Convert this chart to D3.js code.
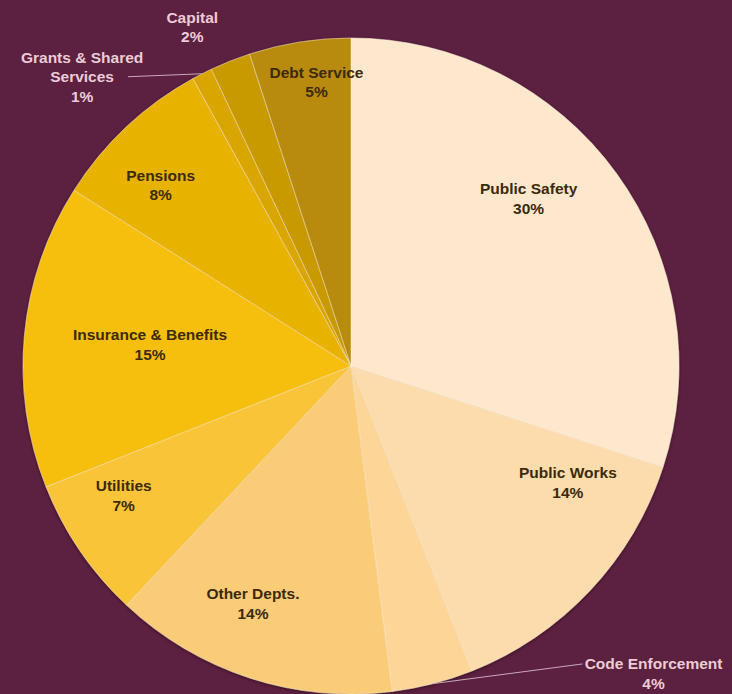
<!DOCTYPE html>
<html>
<head>
<meta charset="utf-8">
<script src="https://cdn.jsdelivr.net/npm/d3@7"></script>
<style>
  html, body { margin: 0; padding: 0; background: #5c2040; }
  svg { display: block; }
</style>
</head>
<body>
<div id="plot"></div>
<script>
// data, clockwise from 12 o'clock
var categories = ["Public Safety", "Public Works", "Code Enforcement", "Other Depts.",
    "Utilities", "Insurance & Benefits", "Pensions", "Grants & Shared Services",
    "Capital", "Debt Service"];
var shares = [30, 14, 4, 14, 7, 15, 8, 1, 2, 5];
var sliceColors = ["#fde8cd", "#fcdcad", "#fcd597", "#fbcc78", "#f9c437",
    "#f6be0a", "#e8b200", "#d9a600", "#c99a02", "#b88a0c"];

var svgWidth = 732;
var svgHeight = 694;

var svg = d3.select("#plot")
    .append("svg")
    .attr("width", svgWidth)
    .attr("height", svgHeight);

svg.append("rect")
    .attr("width", svgWidth)
    .attr("height", svgHeight)
    .attr("fill", "#5c2040");

var cx = 351, cy = 366, radius = 328;
var lineGap = 19.5;
var fontFamily = "Liberation Sans, Arial, sans-serif";

var chartGroup = svg.append("g")
    .attr("transform", `translate(${cx}, ${cy})`);

var pie = d3.pie().sort(null).value(d => d.value);
var arc = d3.arc().innerRadius(0).outerRadius(radius);
var labelArc = d3.arc().innerRadius(radius * 0.79).outerRadius(radius * 0.79);

var data = categories.map((c, i) => ({ name: c, value: shares[i], color: sliceColors[i] }));
var arcs = pie(data);

// soft edge shadow
var defs = svg.append("defs");
var shadow = defs.append("filter").attr("id", "shadow")
    .attr("x", "-10%").attr("y", "-10%").attr("width", "120%").attr("height", "120%");
shadow.append("feDropShadow")
    .attr("dx", 0).attr("dy", 1).attr("stdDeviation", 1.5)
    .attr("flood-color", "#2a0818").attr("flood-opacity", 0.7);

var slices = chartGroup.append("g").attr("filter", "url(#shadow)");
slices.selectAll("path")
    .data(arcs)
    .enter()
    .append("path")
    .attr("d", arc)
    .attr("fill", d => d.data.color)
    .attr("stroke", "#fff3e0")
    .attr("stroke-opacity", 0.45)
    .attr("stroke-width", 1);

function pct(d) { return Math.round(d.data.value) + "%"; }

// draw a centred block of text lines around (x, y)
function textBlock(x, y, lines, color) {
    var t = chartGroup.append("text")
        .attr("text-anchor", "middle")
        .attr("font-family", fontFamily)
        .attr("font-size", "15.5px")
        .attr("font-weight", "bold")
        .attr("fill", color);
    var top = y - (lines.length - 1) * lineGap / 2 + 5.5;
    lines.forEach(function (s, i) {
        t.append("tspan").attr("x", x).attr("y", top + i * lineGap).text(s);
    });
}

// labels inside the slices: centroid plus a small nudge (as in the original layout)
var insideNudge = {
    "Public Safety": [-32, -15],
    "Public Works": [28, -61],
    "Other Depts.": [-18, -9],
    "Utilities": [-13, -16],
    "Insurance & Benefits": [57, 3],
    "Pensions": [-13, 8],
    "Debt Service": [6, -28]
};
arcs.filter(d => insideNudge[d.data.name]).forEach(function (d) {
    var p = labelArc.centroid(d);
    var n = insideNudge[d.data.name];
    textBlock(p[0] + n[0], p[1] + n[1], [d.data.name, pct(d)], "#3b2a0e");
});

// labels outside, with leader lines
function edgePoint(d) {
    var a = (d.startAngle + d.endAngle) / 2;
    return [radius * Math.sin(a), -radius * Math.cos(a)];
}
var outsideLayout = {
    "Grants & Shared Services": { dx: -120, dy: 3, lines: ["Grants & Shared", "Services"], leader: 46 },
    "Capital": { dx: -38, dy: -34, lines: ["Capital"], leader: 0 },
    "Code Enforcement": { dx: 221, dy: -10, lines: ["Code Enforcement"], leader: -71 }
};

arcs.filter(d => outsideLayout[d.data.name]).forEach(function (d) {
    var lay = outsideLayout[d.data.name];
    var p = edgePoint(d);
    var lx = p[0] + lay.dx, ly = p[1] + lay.dy;
    var all = lay.lines.concat([pct(d)]);
    if (lay.leader) {
        var firstY = ly - (all.length - 1) * lineGap / 2;
        var leadY = all.length === 3 ? ly : firstY;
        chartGroup.append("line")
            .attr("x1", p[0]).attr("y1", p[1])
            .attr("x2", lx + lay.leader).attr("y2", leadY)
            .attr("stroke", "#c9a9b8")
            .attr("stroke-width", 1);
    }
    textBlock(lx, ly, all, "#ecccd6");
});
</script>
</body>
</html>
